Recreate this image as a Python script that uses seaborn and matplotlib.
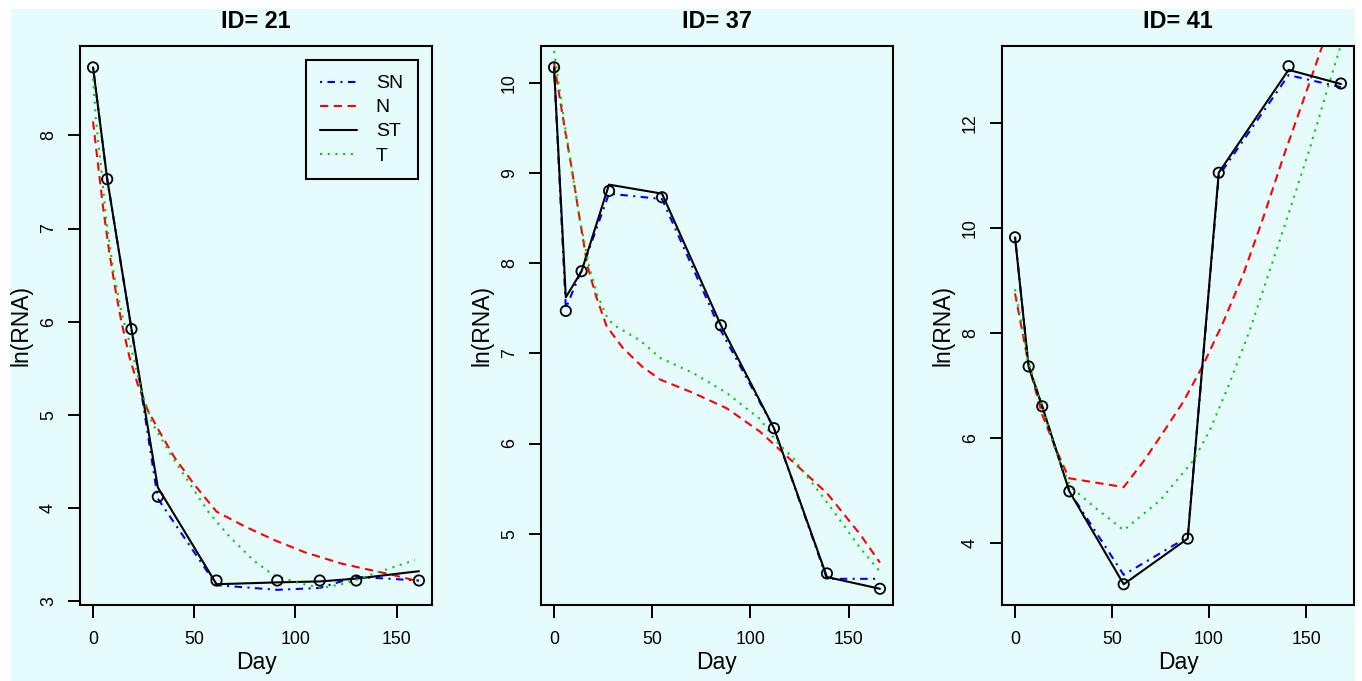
import numpy as np
import pandas as pd
import seaborn as sns
import matplotlib.pyplot as plt
from matplotlib.lines import Line2D
from matplotlib.patches import Rectangle

sns.set_style('ticks')
plt.rcParams['font.family'] = ['Liberation Sans', 'DejaVu Sans']
plt.rcParams['text.color'] = 'black'
plt.rcParams['axes.labelcolor'] = 'black'
plt.rcParams['xtick.color'] = 'black'
plt.rcParams['ytick.color'] = 'black'

BG = '#E6FCFC'

# ---- ID 21 ----
obs_day_21 = [0, 7, 19, 32, 61, 91, 112, 130, 161]
obs_21 = [8.73, 7.53, 5.92, 4.12, 3.22, 3.22, 3.22, 3.22, 3.22]
st_21 = [8.73, 7.53, 5.92, 4.22, 3.18, 3.20, 3.21, 3.24, 3.32]
sn_21 = [8.73, 7.53, 5.92, 4.10, 3.17, 3.12, 3.14, 3.26, 3.22]
n_day_21 = [0, 2.5, 5, 8, 11, 14, 18, 22, 27, 32, 40, 50, 61, 75, 90, 105, 123, 148, 161]
n_21 = [8.15, 7.68, 7.22, 6.75, 6.35, 6.0, 5.62, 5.33, 5.05, 4.85, 4.55, 4.25, 3.96,
        3.80, 3.65, 3.52, 3.40, 3.28, 3.21]
t_day_21 = [0, 1.5, 4, 6.5, 10, 14, 19, 24, 29, 39, 49, 57.5, 67.5, 79, 89, 102, 113,
            125, 141, 159]
t_21 = [8.61, 8.15, 7.65, 7.1, 6.55, 6.1, 5.7, 5.25, 4.92, 4.55, 4.22, 3.94, 3.69,
        3.44, 3.28, 3.19, 3.14, 3.19, 3.31, 3.44]

# ---- ID 37 ----
obs_day_37 = [0, 6, 14, 28, 55, 85, 112, 139, 166]
obs_37 = [10.17, 7.47, 7.91, 8.80, 8.73, 7.31, 6.17, 4.56, 4.39]
st_37 = [10.17, 7.62, 7.91, 8.87, 8.77, 7.31, 6.17, 4.52, 4.39]
sn_37 = [10.17, 7.50, 7.92, 8.77, 8.71, 7.25, 6.17, 4.50, 4.50]
n_day_37 = [0, 5, 9, 13, 17, 21.6, 26.8, 35, 45, 54, 71, 88, 105, 122, 139, 156, 166]
n_37 = [10.22, 9.55, 9.05, 8.5, 7.97, 7.62, 7.3, 7.06, 6.85, 6.71, 6.56, 6.39, 6.13,
        5.79, 5.45, 4.99, 4.68]
t_day_37 = [0, 5, 9, 13, 18, 22, 27, 30, 44, 54, 71, 88, 105, 113, 122, 139, 156, 166]
t_37 = [10.35, 9.6, 9.05, 8.5, 7.95, 7.65, 7.40, 7.32, 7.14, 6.95, 6.78, 6.56, 6.27,
        6.03, 5.83, 5.35, 4.84, 4.58]

# ---- ID 41 ----
obs_day_41 = [0, 7, 14, 28, 56, 89, 105, 141, 168]
obs_41 = [9.83, 7.37, 6.61, 4.99, 3.22, 4.09, 11.06, 13.09, 12.76]
st_41 = [9.83, 7.37, 6.61, 4.99, 3.22, 4.09, 11.06, 13.02, 12.75]
sn_41 = [9.83, 7.37, 6.61, 4.99, 3.40, 4.12, 11.00, 12.92, 12.69]
n_day_41 = [0, 7, 14, 21, 27.8, 56, 66, 76.5, 86.8, 97, 107.4, 117.7, 128, 138.3,
            148.6, 157.2, 168]
n_41 = [8.76, 7.40, 6.45, 5.8, 5.24, 5.07, 5.55, 6.12, 6.70, 7.40, 8.22, 9.13, 10.21,
        11.36, 12.44, 13.35, 14.5]
t_day_41 = [0, 7, 14, 21, 28.6, 40.6, 56, 74.8, 92, 100.5, 110.8, 121, 131.4, 141.8,
            152, 160.6, 168]
t_41 = [8.84, 7.45, 6.6, 5.75, 5.08, 4.70, 4.25, 4.82, 5.58, 6.16, 7.07, 8.06, 9.21,
        10.37, 11.53, 12.60, 13.5]

model_order = ['SN', 'N', 'ST', 'T']
model_colors = {'SN': '#0000FF', 'N': '#FF0000', 'ST': '#000000', 'T': '#00CD00'}
model_dashes = {'SN': (1, 2.6, 3.6, 2.6), 'N': (4, 2.6), 'ST': '', 'T': (1, 2.7)}

panels = [
    (21, obs_day_21, obs_21, [('SN', obs_day_21, sn_21), ('N', n_day_21, n_21),
                              ('ST', obs_day_21, st_21), ('T', t_day_21, t_21)]),
    (37, obs_day_37, obs_37, [('SN', obs_day_37, sn_37), ('N', n_day_37, n_37),
                              ('ST', obs_day_37, st_37), ('T', t_day_37, t_37)]),
    (41, obs_day_41, obs_41, [('SN', obs_day_41, sn_41), ('N', n_day_41, n_41),
                              ('ST', obs_day_41, st_41), ('T', t_day_41, t_41)]),
]

# axes layout (pixels)
W, H = 1362, 681
lefts = [80, 541, 1002]
ylims = [(2.957, 8.963), (4.21, 10.41), (2.825, 13.48)]
yticks = [[3, 4, 5, 6, 7, 8], [5, 6, 7, 8, 9, 10], [4, 6, 8, 10, 12]]

fig = plt.figure(figsize=(W / 100, H / 100), dpi=100, facecolor='white')
fig.patches.append(Rectangle((11 / W, 0), 1344 / W, 672 / H, transform=fig.transFigure,
                             facecolor=BG, edgecolor='none', zorder=-10))

for i, (pid, od, ov, parts) in enumerate(panels):
    ax = fig.add_axes([lefts[i] / W, 76 / H, 352 / W, 559.3 / H])
    ax.set_facecolor(BG)
    df = pd.concat([pd.DataFrame({'Day': d, 'lnRNA': v, 'model': m}) for m, d, v in parts],
                   ignore_index=True)
    sns.lineplot(data=df, x='Day', y='lnRNA', hue='model', style='model',
                 hue_order=model_order, style_order=model_order,
                 palette=model_colors, dashes=model_dashes,
                 estimator=None, linewidth=1.5, legend=False, ax=ax)
    sns.scatterplot(x=od, y=ov, marker='o', s=55, facecolors='none',
                    edgecolors='black', linewidth=1.3, zorder=5, ax=ax)

    xmax = max(od)
    ax.set_xlim(-0.04 * xmax, 1.04 * xmax)
    ax.set_ylim(*ylims[i])
    ax.set_xticks([0, 50, 100, 150])
    ax.set_yticks(yticks[i])
    ax.set_yticklabels([str(t) for t in yticks[i]], rotation=90, va='center')

    for sp in ax.spines.values():
        sp.set_visible(True)
        sp.set_linewidth(1.5)
        sp.set_color('black')
    ax.tick_params(direction='out', length=9, width=1.4, colors='black',
                   labelcolor='black', labelsize=12.8)
    ax.tick_params(axis='x', pad=10)
    ax.tick_params(axis='y', pad=7.5)

    ax.set_title(f'ID= {pid}', fontsize=16.8, fontweight='bold', pad=13, color='black')
    ax.set_xlabel('Day', fontsize=16.5, color='black')
    ax.set_ylabel('ln(RNA)', fontsize=16.5, color='black')
    ax.xaxis.set_label_coords(0.5, -0.083)
    ax.yaxis.set_label_coords(-0.135, 0.5)

    if i == 0:
        handles = [Line2D([], [], color=model_colors[m], linewidth=1.5,
                          linestyle='-' if model_dashes[m] == '' else (0, model_dashes[m]))
                   for m in model_order]
        leg = ax.legend(handles, model_order, loc='upper right',
                        bbox_to_anchor=(0.959, 0.974), borderaxespad=0,
                        fontsize=14, handlelength=1.9, handletextpad=0.95,
                        labelspacing=0.33, borderpad=0.75, fancybox=False,
                        framealpha=1, facecolor=BG, edgecolor='black')
        leg.get_frame().set_linewidth(1.5)
        for t in leg.get_texts():
            t.set_color('black')

fig.savefig('out.png', dpi=100, facecolor=fig.get_facecolor())
